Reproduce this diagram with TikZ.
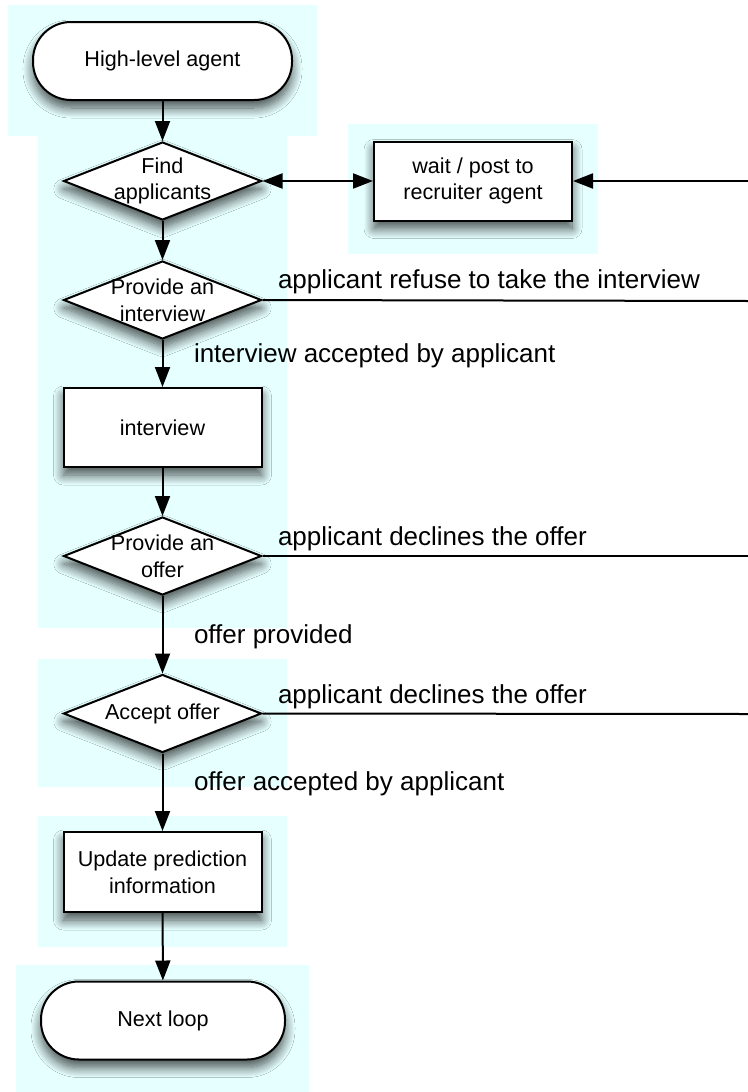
\documentclass[tikz,border=0pt]{standalone}
\usepackage{fontspec}
\setmainfont{Liberation Sans}
\usetikzlibrary{shapes.geometric,arrows.meta,shadows.blur}
\definecolor{bgcyan}{RGB}{230,255,255}
\definecolor{shadowblue}{RGB}{40,50,120}
\newcommand{\nodefont}{\fontsize{10.8}{13.4}\selectfont}
\newcommand{\lblfont}{\fontsize{13}{15.6}\selectfont}

\begin{document}
\begin{tikzpicture}[
        x=0.5pt, y=-0.5pt,
        line width=1pt,
        every node/.style={font=\nodefont, align=center},
        glow/.style={blur shadow={shadow xshift=0pt, shadow yshift=-4pt, shadow blur radius=5pt, shadow blur steps=12, shadow opacity=70, fill=shadowblue}},
        terminal/.style={glow, draw, fill=white, rounded corners=19pt, minimum height=39pt, inner sep=0pt},
        process/.style={glow, draw, fill=white, minimum width=99pt, minimum height=39.5pt, inner sep=0pt},
        decision/.style={glow, diamond, draw, fill=white, minimum width=99pt, minimum height=39pt, inner sep=0pt},
        lbl/.style={font=\lblfont, anchor=base west, inner sep=0pt},
        flow/.style={draw, -{Triangle[length=10pt, width=7.5pt]}}
    ]
 \useasboundingbox (0,0) rectangle (748,1092);
 % light background panels
 \fill[bgcyan] (8,5) rectangle (317,136);
 \fill[bgcyan] (38,136) rectangle (287,628);
 \fill[bgcyan] (348,124) rectangle (598,254);
 \fill[bgcyan] (38,659) rectangle (287,787);
 \fill[bgcyan] (38,816) rectangle (287,947);
 \fill[bgcyan] (16,965) rectangle (309,1092);

 % nodes
 \node[terminal, minimum width=129.5pt] (start) at (162.5,61) {High-level agent};
 \node[decision, label={[align=center]center:Find\\applicants}] (find) at (162.5,181) {};
 \node[process] (wait) at (473,181) {wait / post to\\recruiter agent};
 \node[decision, label={[align=center]center:Provide an\\interview}] (provint) at (162.5,300) {};
 \node[process] (interview) at (162.5,427.5) {interview};
 \node[decision, label={[align=center]center:Provide an\\offer}] (provoffer) at (162.5,556) {};
 \node[decision, label={[align=center]center:Accept offer}] (accept) at (162.5,713.5) {};
 \node[process, minimum height=40pt] (update) at (162.5,872) {Update prediction\\information};
 \node[terminal, minimum width=122pt] (next) at (163,1020.5) {Next loop};

 % loose ends at the right border
 \coordinate (back) at (748,181);
 \coordinate (out1) at (748,301);
 \coordinate (out2) at (748,556);
 \coordinate (out3) at (748,714);

 % connectors
 \draw[flow] (start) -- (find);
 \draw[flow, {Triangle[length=10pt, width=7.5pt]}-{Triangle[length=10pt, width=7.5pt]}] (find) -- (wait);
 \draw[flow] (back) -- (wait);
 \draw[flow] (find) -- (provint);
 \draw (provint.east) -- (out1);
 \draw[flow] (provint) -- (interview);
 \draw[flow] (interview) -- (provoffer);
 \draw (provoffer.east) -- (out2);
 \draw[flow] (provoffer) -- (accept);
 \draw (accept.east) -- (out3);
 \draw[flow] (accept) -- (update);
 \draw[flow] (update) -- (next);

 % edge labels
 \node[lbl] (refuse) at (277,288) {applicant refuse to take the interview};
 \node[lbl] (accepted) at (193,362) {interview accepted by applicant};
 \node[lbl] (declines1) at (277,545) {applicant declines the offer};
 \node[lbl] (provided) at (193,643) {offer provided};
 \node[lbl] (declines2) at (277,703) {applicant declines the offer};
 \node[lbl] (offeracc) at (193,790) {offer accepted by applicant};
\end{tikzpicture}
\end{document}
